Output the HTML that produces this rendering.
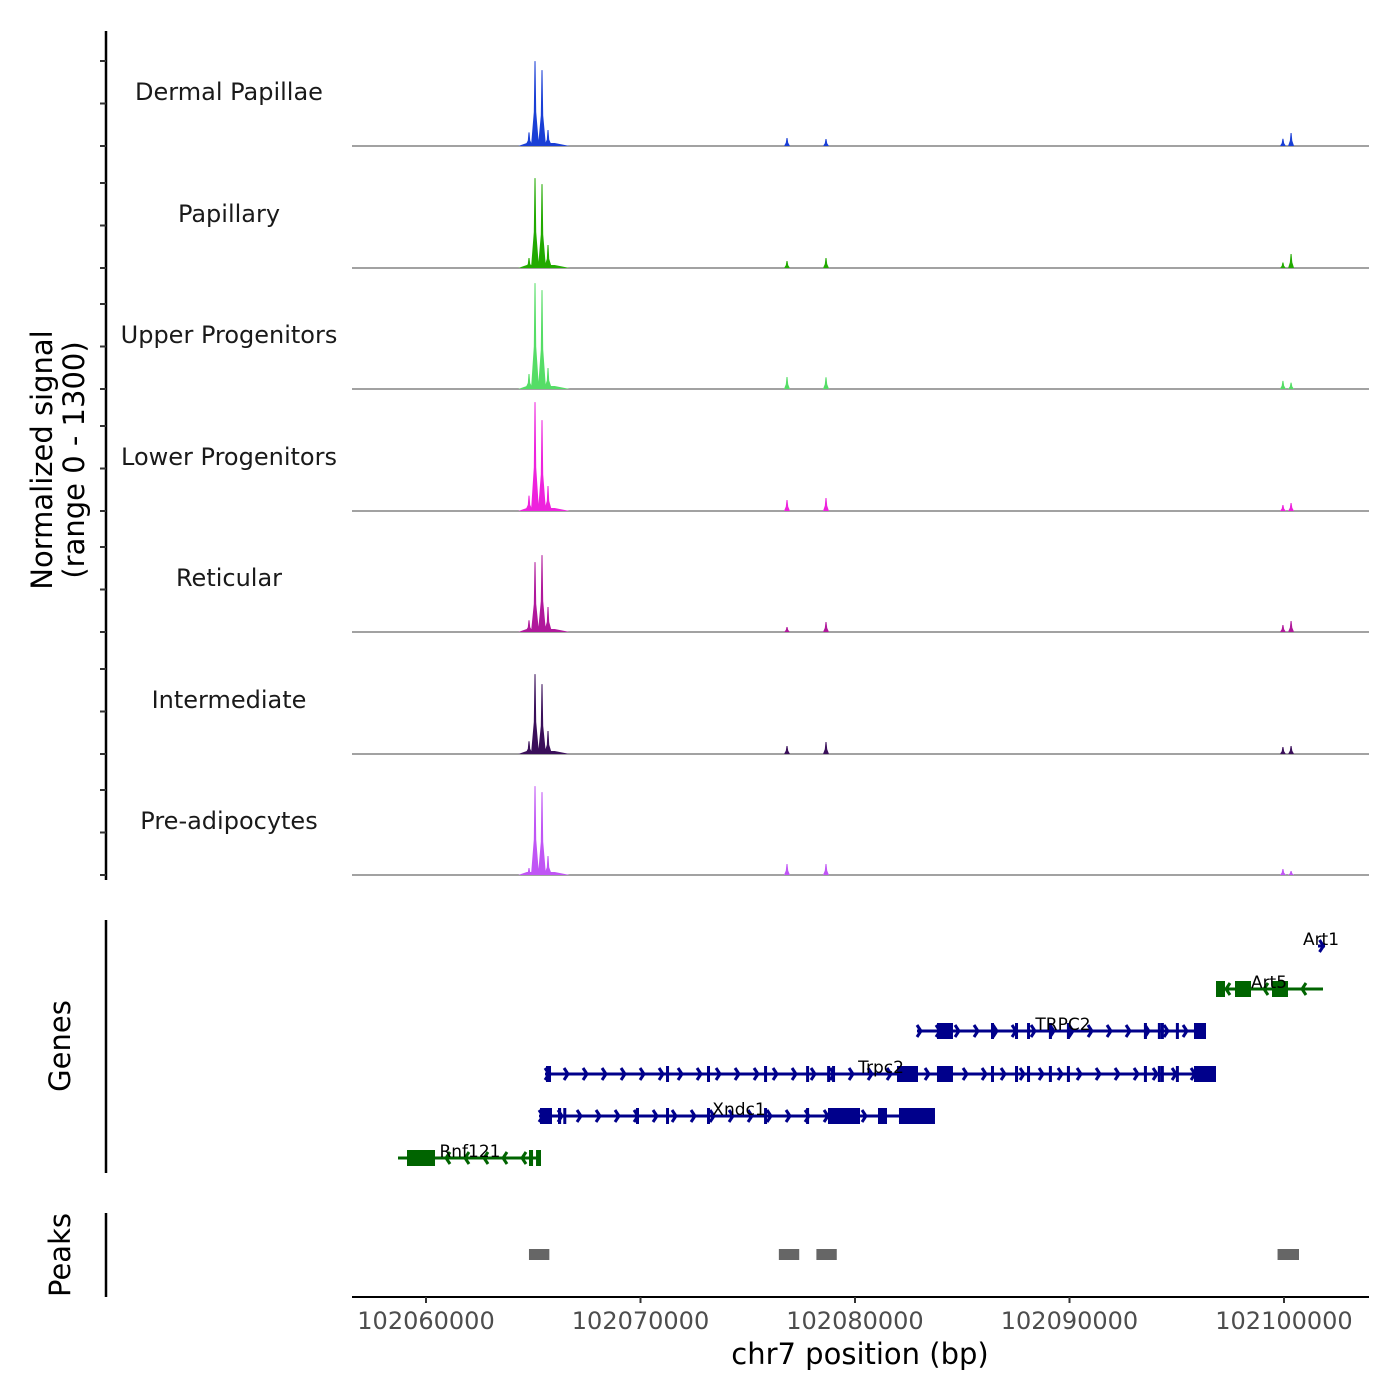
<!DOCTYPE html>
<html><head><meta charset="utf-8"><style>
html,body{margin:0;padding:0;background:#fff}
svg{display:block;font-family:"DejaVu Sans","Liberation Sans",sans-serif}
</style></head><body>
<svg id="chart" width="1400" height="1400" viewBox="0 0 1400 1400" xmlns="http://www.w3.org/2000/svg">
<g id="tracks"></g>
<g id="genes"></g>
<g id="peaks"></g>
<g id="axes"></g>
</svg>
<script>
const trackNames = ["Dermal Papillae","Papillary","Upper Progenitors","Lower Progenitors","Reticular","Intermediate","Pre-adipocytes"];
const trackColors = ["#1a3fd6","#22aa00","#55dd66","#ee22dd","#b0189b","#3a0f5a","#c055f5"];
const peakPositions = [102064802,102065082,102065408,102065688,102076830,102078648,102099950,102100330];
const signalDP  = [150,935,836,176,88,77,80,143];
const signalPap = [110,990,924,253,77,110,60,154];
const signalUP  = [165,1166,1089,231,132,130,90,70];
const signalLP  = [170,1199,1001,275,121,143,66,88];
const signalRet = [130,770,847,275,55,110,77,121];
const signalInt = [140,880,770,253,88,132,77,88];
const signalPre = [77,979,913,209,121,121,66,44];
const trackSignals = [signalDP,signalPap,signalUP,signalLP,signalRet,signalInt,signalPre];
const xTicks = [102060000,102070000,102080000,102090000,102100000];
const peakStarts = [102064800,102076450,102078200,102099700];
const peakEnds   = [102065750,102077400,102079150,102100700];
const geneNames  = ["Art1","Art5","TRPC2","Trpc2","Xndc1","Rnf121"];
const geneStrand = [1,-1,1,1,1,-1];
const geneStart  = [102101585,102096830,102082890,102065548,102065268,102058695];
const geneEnd    = [102101911,102101818,102096364,102096830,102083729,102065361];
const geneExons = [
 [],
 [[102096830,102097250],[102097716,102098462],[102099441,102100186]],
 [[102083822,102084568],[102086340,102086480],[102087460,102087600],[102088020,102088160],[102089040,102089180],[102089880,102090020],[102093470,102093610],[102094120,102094260],[102094260,102094350],[102094960,102095100],[102095804,102096364]],
 [[102065594,102065828],[102071190,102071330],[102073100,102073240],[102075760,102075900],[102077720,102077860],[102078700,102078840],[102078930,102079070],[102081958,102082937],[102083822,102084568],[102086340,102086480],[102087460,102087600],[102088020,102088160],[102089040,102089180],[102089880,102090020],[102093470,102093610],[102094120,102094260],[102094260,102094350],[102094960,102095100],[102095804,102096830]],
 [[102065315,102065874],[102066154,102066300],[102066400,102066527],[102069790,102069930],[102071190,102071330],[102073100,102073240],[102075760,102075900],[102077720,102077860],[102078741,102080233],[102081072,102081492],[102082051,102083729]],
 [[102059114,102060420],[102064802,102064990],[102065130,102065361]]
];
const geneColors = ["#00008b","#006400","#00008b","#00008b","#00008b","#006400"];
const labelX = [102101725,102099301,102089697,102081212,102074592,102062051];

const NS="http://www.w3.org/2000/svg";
function mk(tag,attrs,parent){const e=document.createElementNS(NS,tag);for(const k in attrs)e.setAttribute(k,attrs[k]);parent.appendChild(e);return e;}
const X0=352,X1=1369,BP0=102056550,BP1=102103963;
const xs=bp=>X0+(bp-BP0)*(X1-X0)/(BP1-BP0);
const baselines=[146,268,389,511,632,754,875];
const ys=(v,b)=>b-v*118/1300;

const tg=document.getElementById('tracks');
trackNames.forEach((nm,i)=>{
  const b=baselines[i];
  const g=mk('g',{},tg);
  
  
  const base=mk('line',{x1:X0,x2:X1,y1:b,y2:b,stroke:'#444','stroke-width':1},g);
  
  
  const foot=mk('polygon',{points:`${xs(102064300)},${b} ${xs(102064700)},${b-3} ${xs(102066000)},${b-3} ${xs(102066700)},${b}`,fill:trackColors[i]},g);
  
  
  trackSignals[i].forEach((v,j)=>{
    const cx=xs(peakPositions[j]);
    const hw=j<4?4:3;
    const top=ys(v,b);
    const p=mk('polygon',{points:`${cx-hw},${b} ${cx-1.2},${b-(b-top)*0.4} ${cx-0.5},${top} ${cx+0.5},${top} ${cx+1.2},${b-(b-top)*0.4} ${cx+hw},${b}`,fill:trackColors[i]},g);
    
    
  });
  const t=mk('text',{x:229,y:b-46,'text-anchor':'middle','font-size':24,fill:'#1a1a1a'},g);
  t.textContent=nm;
  
  
});

const gg=document.getElementById('genes');
const rowY=[946,989,1031,1074,1116,1158];
geneNames.forEach((nm,i)=>{
  const y=rowY[i],c=geneColors[i];
  const g=mk('g',{},gg);
  
  
  const a=xs(geneStart[i]),e=xs(geneEnd[i]);
  mk('line',{x1:a,x2:e,y1:y,y2:y,stroke:c,'stroke-width':3},g);
  const d=geneStrand[i]*4;
  if(geneExons[i].length===0){
    const x=(a+e)/2+2;
    mk('polyline',{points:`${x-d},${y-6} ${x},${y} ${x-d},${y+6}`,fill:'none',stroke:c,'stroke-width':3},g);
  }
  for(let x=(geneStrand[i]>0?a+4:a+10);x<=e-3;x+=19){
    mk('polyline',{points:`${x-d},${y-6} ${x},${y} ${x-d},${y+6}`,fill:'none',stroke:c,'stroke-width':3},g);
  }
  geneExons[i].forEach(ex=>{
    const x1=xs(ex[0]),x2=xs(ex[1]);
    const r=mk('rect',{x:x1,y:y-8,width:Math.max(3,x2-x1),height:16,fill:c},g);
    
    
  });
  const t=mk('text',{x:xs(labelX[i]),y:y-1,'text-anchor':'middle','font-size':17,fill:'#000'},g);
  t.textContent=nm;
  
  
});

const pg=document.getElementById('peaks');
peakStarts.forEach((s,i)=>{
  const r=mk('rect',{x:xs(s),y:1249,width:xs(peakEnds[i])-xs(s),height:11,fill:'#666'},pg);
  
  
});

const ag=document.getElementById('axes');
mk('line',{x1:106,x2:106,y1:31,y2:880,stroke:'#000','stroke-width':2.5},ag);
baselines.forEach(b=>{[0,42.5,85].forEach(o=>mk('line',{x1:100,x2:106,y1:b-o,y2:b-o,stroke:'#333','stroke-width':2},ag));});
mk('line',{x1:106,x2:106,y1:920,y2:1173,stroke:'#000','stroke-width':2.5},ag);
mk('line',{x1:106,x2:106,y1:1213,y2:1297,stroke:'#000','stroke-width':2.5},ag);
mk('line',{x1:X0,x2:X1,y1:1297,y2:1297,stroke:'#000','stroke-width':2},ag);
xTicks.forEach(v=>{
  const x=xs(v);
  mk('line',{x1:x,x2:x,y1:1297,y2:1303,stroke:'#333','stroke-width':2},ag);
  const t=mk('text',{x:x,y:1329,'text-anchor':'middle','font-size':24,fill:'#4d4d4d'},ag);
  t.textContent=v;
  
  
});
const xt=mk('text',{x:860,y:1364,'text-anchor':'middle','font-size':29,fill:'#000'},ag);
xt.textContent='chr7 position (bp)';


const yt=mk('text',{transform:'translate(52,460) rotate(-90)','text-anchor':'middle','font-size':29,fill:'#000'},ag);
yt.textContent='Normalized signal';


const yt2=mk('text',{transform:'translate(84,460) rotate(-90)','text-anchor':'middle','font-size':29,fill:'#000'},ag);
yt2.textContent='(range 0 - 1300)';


const gt=mk('text',{transform:'translate(70,1046) rotate(-90)','text-anchor':'middle','font-size':29,fill:'#000'},ag);
gt.textContent='Genes';


const pt=mk('text',{transform:'translate(70,1255) rotate(-90)','text-anchor':'middle','font-size':29,fill:'#000'},ag);
pt.textContent='Peaks';


</script>
</body></html>
